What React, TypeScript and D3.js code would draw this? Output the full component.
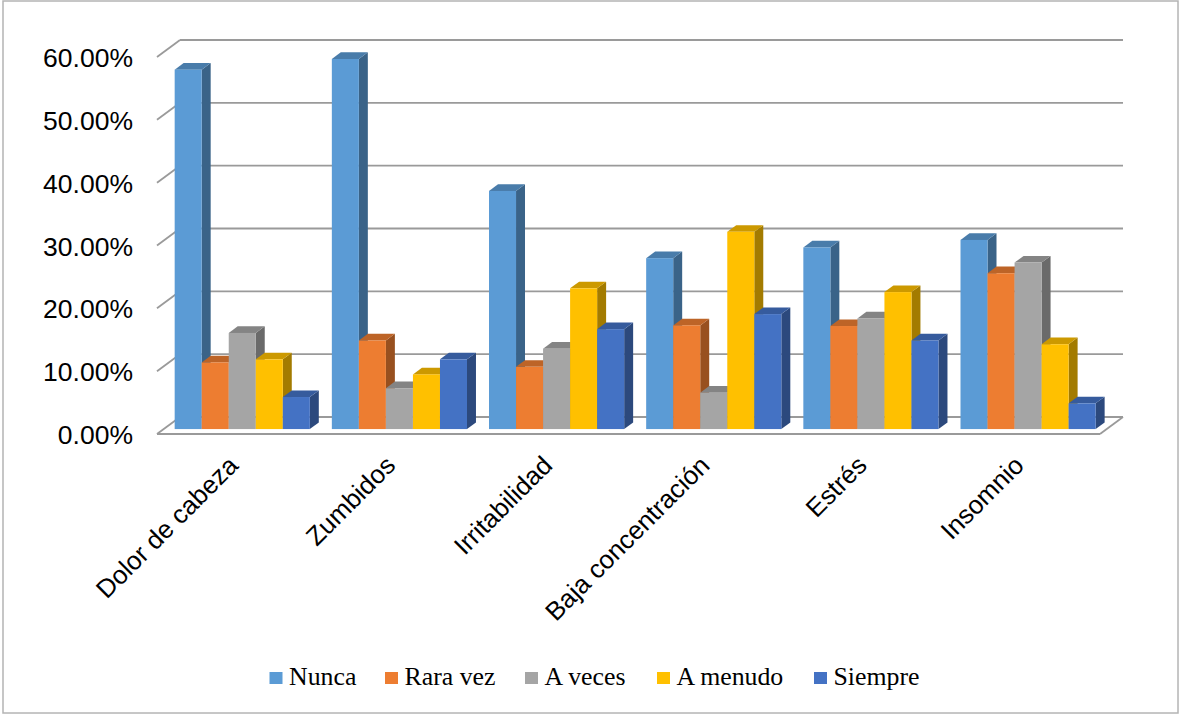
import React from "react";
import * as d3 from "d3";

// Categories, series and values (percent)
const categories = ["Dolor de cabeza", "Zumbidos", "Irritabilidad", "Baja concentración", "Estrés", "Insomnio"];
const seriesNames = ["Nunca", "Rara vez", "A veces", "A menudo", "Siempre"];
const nunca = [57.2, 58.9, 37.9, 27.2, 28.9, 30.1];
const raraVez = [10.6, 14.1, 9.9, 16.5, 16.4, 24.8];
const aVeces = [15.3, 6.5, 12.8, 5.8, 17.6, 26.5];
const aMenudo = [11.1, 8.7, 22.4, 31.4, 21.8, 13.5];
const siempre = [5.1, 11.1, 15.9, 18.3, 14.1, 4.1];
const seriesColors = ["#5B9BD5", "#ED7D31", "#A5A5A5", "#FFC000", "#4472C4"];
const yTicks = [0, 10, 20, 30, 40, 50, 60];

const seriesValues = [nunca, raraVez, aVeces, aMenudo, siempre];

const W = 1180;
const H = 715;

// Floor / wall geometry (oblique 3D projection)
const floorLeft = 157;
const floorRight = 1100;
const floorFrontY = 434;
const depthX = 23;
const depthY = -17;
const barFrontT = 0.29; // bar front plane, as fraction of floor depth
const barDepthT = 0.39; // bar thickness, as fraction of floor depth

export default function App() {
  const x0 = d3.scaleBand<string>().domain(categories).range([floorLeft, floorRight]);
  const bw = x0.bandwidth();
  const x1 = d3.scaleBand<string>().domain(seriesNames).range([bw * 0.07, bw * 0.93]);
  const h = d3.scaleLinear().domain([0, 60]).range([0, 377]);

  const gridColor = "#9a9a9a";
  const backX0 = floorLeft + depthX;
  const backX1 = floorRight + depthX;
  const backY0 = floorFrontY + depthY;

  const fx = depthX * barFrontT;
  const fy = depthY * barFrontT;
  const dx = depthX * barDepthT;
  const dy = depthY * barDepthT;
  const barBottom = floorFrontY + fy;

  const bars: React.ReactNode[] = [];
  categories.forEach((cat, ci) => {
    seriesNames.forEach((s, si) => {
      const v = seriesValues[si][ci];
      const left = (x0(cat) as number) + fx + (x1(s) as number);
      const w = x1.bandwidth();
      const top = barBottom - h(v);
      const base = d3.color(seriesColors[si])!;
      const topC = base.darker(0.63).formatHex();
      const sideC = base.darker(1.25).formatHex();
      const r = left + w;
      bars.push(
        <g key={`${ci}-${si}`}>
          <polygon
            points={`${r},${top} ${r + dx},${top + dy} ${r + dx},${barBottom + dy} ${r},${barBottom}`}
            fill={sideC}
          />
          <polygon
            points={`${left},${top} ${left + dx},${top + dy} ${r + dx},${top + dy} ${r},${top}`}
            fill={topC}
          />
          <rect x={left} y={top} width={w} height={barBottom - top} fill={seriesColors[si]} />
        </g>
      );
    });
  });

  const legendX = [269.5, 385, 525, 657, 814];

  return (
    <svg width={W} height={H} style={{ position: "absolute", left: 0, top: 0, background: "#fff" }}>
      <rect x={3} y={1} width={1175} height={712} fill="#fff" stroke="#b4b4b4" strokeWidth={1.5} />

      {/* back wall gridlines and left-side ticks */}
      {yTicks.map((t) => {
        const yb = backY0 - h(t);
        const yf = floorFrontY - h(t);
        return (
          <g key={t}>
            <line x1={backX0} y1={yb} x2={backX1} y2={yb} stroke={gridColor} strokeWidth={1.8} />
            <line x1={floorLeft} y1={yf} x2={backX0} y2={yb} stroke={gridColor} strokeWidth={1.8} />
            <text
              x={133}
              y={yf + 1}
              textAnchor="end"
              dominantBaseline="central"
              fontFamily="'Liberation Sans', Arial, sans-serif"
              fontSize={26.5}
              fill="#000"
            >
              {t.toFixed(2)}%
            </text>
          </g>
        );
      })}

      {/* floor front edge and right edge */}
      <line x1={floorLeft} y1={floorFrontY} x2={floorRight} y2={floorFrontY} stroke={gridColor} strokeWidth={1.8} />
      <line x1={floorRight} y1={floorFrontY} x2={backX1} y2={backY0} stroke={gridColor} strokeWidth={1.8} />

      {bars}

      {/* category labels */}
      {categories.map((c) => {
        const cx = (x0(c) as number) + bw / 2 + 4;
        const cy = 467;
        return (
          <text
            key={c}
            x={cx}
            y={cy}
            transform={`rotate(-45 ${cx} ${cy})`}
            textAnchor="end"
            fontFamily="'Liberation Sans', Arial, sans-serif"
            fontSize={25.8}
            fill="#000"
          >
            {c}
          </text>
        );
      })}

      {/* legend */}
      {seriesNames.map((s, i) => (
        <g key={s}>
          <rect x={legendX[i]} y={672} width={13} height={12} fill={seriesColors[i]} />
          <text
            x={legendX[i] + 19.5}
            y={685}
            fontFamily="'Liberation Serif', 'Times New Roman', serif"
            fontSize={25.8}
            fill="#000"
          >
            {s}
          </text>
        </g>
      ))}
    </svg>
  );
}
